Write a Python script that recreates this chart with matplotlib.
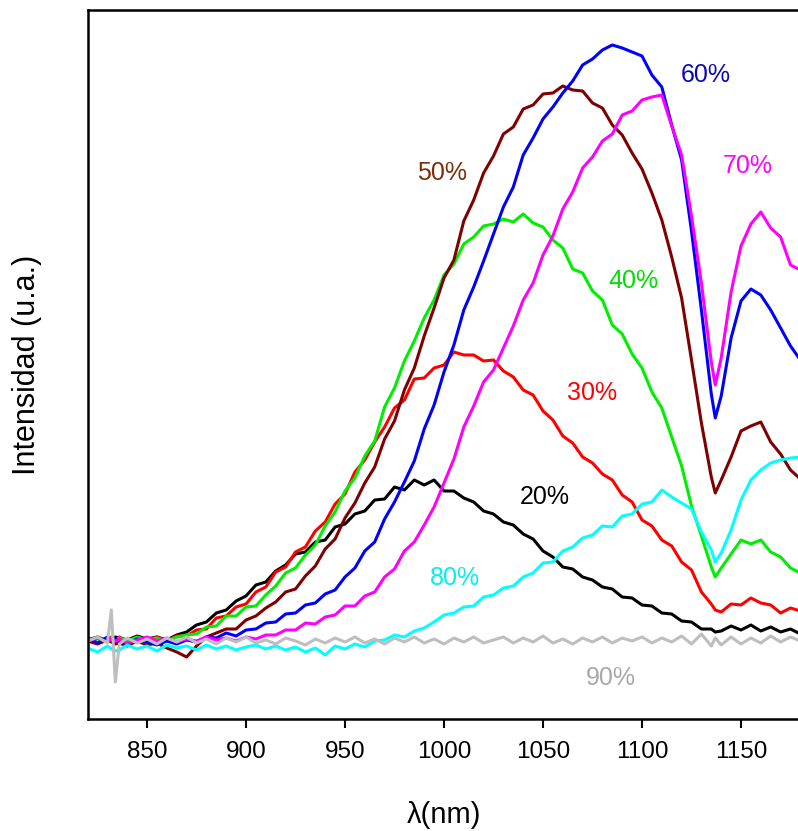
import matplotlib
matplotlib.use("Agg")
import matplotlib.pyplot as plt

plt.rcParams['font.family'] = ['Liberation Sans', 'DejaVu Sans']

# Wavelength grid (nm)
wavelength = [820, 825, 830, 832, 834, 836] + list(range(840, 1136, 5)) + [1137] + list(range(1140, 1181, 5))

# Emission intensity (arbitrary units) for each concentration
i_20 = [0, 3, -1, 1, 3, 2, 0, 4, 1, 3, 0, 5, 8, 15, 18, 27, 30, 39, 44, 55, 58, 69, 75, 86,
        88, 98, 100, 113, 116, 126, 129, 140, 141, 153, 150, 160, 155, 160, 149, 149, 142, 138,
        129, 126, 118, 115, 106, 101, 89, 83, 73, 71, 63, 60, 53, 51, 43, 42, 35, 34, 27, 26,
        19, 18, 11, 11, 8, 9, 14, 10, 15, 9, 13, 8, 11, 6]
i_30 = [-1, 2, 0, 3, -1, 3, -1, 2, 0, 3, -1, 4, 4, 10, 11, 22, 24, 33, 36, 48, 53, 68, 73, 88,
        93, 109, 118, 136, 146, 168, 180, 198, 213, 232, 240, 261, 262, 272, 275, 288, 285, 285,
        279, 280, 269, 263, 250, 245, 229, 220, 204, 197, 183, 177, 166, 160, 145, 138, 120, 114,
        100, 94, 78, 70, 48, 36, 30, 28, 36, 35, 42, 37, 35, 27, 32, 29]
i_40 = [-2, 1, -1, 2, -1, 2, -1, 3, 0, 2, -1, 3, 5, 6, 13, 14, 24, 24, 33, 34, 45, 54, 67, 72,
        85, 95, 114, 128, 149, 162, 184, 199, 233, 252, 279, 299, 322, 340, 365, 376, 396, 403,
        414, 416, 421, 418, 426, 417, 413, 400, 392, 371, 367, 349, 340, 315, 306, 286, 272, 248,
        232, 203, 174, 134, 104, 73, 63, 72, 86, 100, 96, 100, 88, 83, 72, 67]
i_50 = [-1, -4, 0, -2, -4, -3, -6, -1, -5, -3, -8, -12, -17, -6, 3, 7, 11, 11, 20, 24, 32, 38, 48, 51,
        64, 74, 91, 101, 122, 137, 157, 173, 201, 219, 250, 272, 304, 332, 362, 380, 419, 440,
        467, 484, 506, 513, 531, 535, 546, 547, 554, 550, 549, 537, 532, 515, 505, 487, 471, 447,
        420, 383, 342, 280, 217, 163, 147, 160, 183, 209, 214, 218, 198, 186, 170, 161]
i_60 = [2, -3, 3, -1, 1, -1, -4, 1, -2, -5, -1, -4, 0, -2, 3, 2, 7, 4, 10, 11, 17, 18, 26, 27,
        35, 37, 46, 50, 63, 72, 89, 98, 121, 138, 158, 179, 211, 235, 268, 295, 330, 353,
        379, 406, 433, 453, 485, 502, 521, 533, 547, 559, 575, 581, 590, 595, 592, 588, 584, 565,
        553, 515, 480, 409, 330, 246, 222, 244, 302, 339, 351, 345, 330, 312, 294, 280]
i_70 = [-1, 2, -2, 1, -1, 1, -3, 0, 3, -1, 2, -2, 1, -1, 3, 0, 2, -1, 3, 1, 5, 5, 10, 10,
        17, 16, 23, 25, 34, 34, 44, 48, 63, 71, 89, 98, 115, 133, 157, 181, 213, 234,
        258, 270, 292, 314, 340, 357, 385, 404, 431, 448, 472, 483, 499, 506, 525, 529, 540, 543,
        545, 514, 485, 424, 357, 278, 255, 282, 348, 394, 416, 428, 412, 403, 375, 370]
i_80 = [-8, -12, -6, -9, -11, -10, -5, -9, -6, -11, -5, -8, -6, -10, -5, -9, -6, -10, -7, -5, -9, -6, -10, -7,
        -12, -8, -15, -6, -9, -4, -7, -1, 0, 5, 3, 9, 12, 18, 25, 27, 33, 34,
        43, 45, 52, 54, 63, 67, 77, 78, 89, 93, 102, 105, 114, 113, 124, 126, 136, 138,
        150, 143, 137, 131, 108, 90, 78, 87, 110, 140, 160, 170, 177, 180, 182, 183]
i_90 = [-1, 3, -3, 30, -42, -4, 2, -3, 1, -4, 2, -2, 3, -3, 1, -4, 2, -2, 3, -3, 0, -4, 2, -1,
        -5, 1, -3, 2, -2, 3, -3, 1, -4, 2, -2, 3, -3, 1, -4, 2, -2, 3, -3, 0, 3, -3, 2, -2,
        4, -3, 1, -4, 2, -2, 3, -3, 2, -1, 3, -3, 2, -2, 4, -4, 6, -6, 2, -5, 3, -4, 2, -3,
        4, -2, 3, -1]

labels = ["20%", "30%", "40%", "50%", "60%", "70%", "80%", "90%"]
series = [i_20, i_30, i_40, i_50, i_60, i_70, i_80, i_90]
line_colors = ["#000000", "#FF0000", "#00EE00", "#800000", "#0000FF", "#FF00FF", "#00FFFF", "#BEBEBE"]
label_colors = ["#000000", "#FF0000", "#00DD00", "#7A2E0A", "#0A0AB4", "#FF00FF", "#00F0F0", "#A8A8A8"]
# label anchor (wavelength, intensity) for each concentration tag
label_x = [1051, 1074.7, 1095.5, 999, 1132.3, 1153.5, 1005.6, 1084.3]
label_y = [143, 247, 359, 467, 565, 474, 62, -38]

fig = plt.figure(figsize=(7.98, 8.31), dpi=100)
ax = fig.add_axes([88 / 798, 112 / 831, 712.4 / 798, 709 / 831])

for vals, col in zip(series, line_colors):
    ax.plot(wavelength, vals, color=col, lw=2.2, solid_joinstyle='round')

for lab, x, y, col in zip(labels, label_x, label_y, label_colors):
    ax.text(x, y, lab, color=col, fontsize=18, ha='center', va='center')

ax.set_xlim(820.2, 1180)
ax.set_ylim(-79, 630)
ax.set_xticks([850, 900, 950, 1000, 1050, 1100, 1150])
ax.set_yticks([])
ax.tick_params(axis='x', direction='out', length=6.5, width=1.5, labelsize=17.5, pad=9)
for side in ['left', 'bottom', 'top']:
    ax.spines[side].set_linewidth(1.8)
ax.spines['right'].set_visible(False)

ax.set_xlabel("λ(nm)", fontsize=21, labelpad=28)
ax.set_ylabel("Intensidad (u.a.)", fontsize=22, labelpad=33)

fig.savefig("out.png", dpi=100)
